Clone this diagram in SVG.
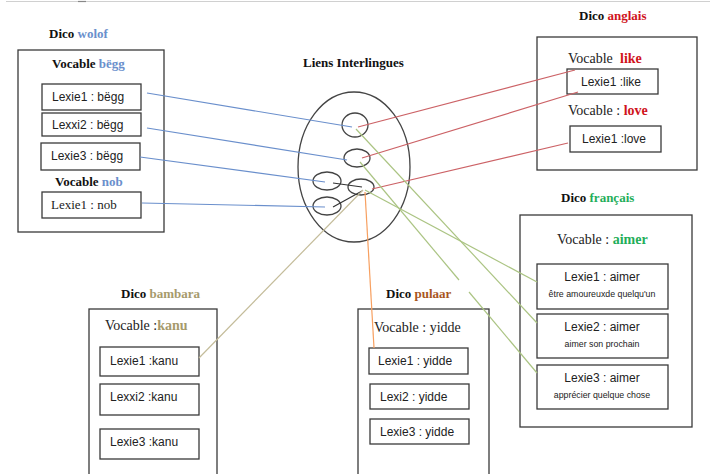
<svg xmlns="http://www.w3.org/2000/svg" width="710" height="474" viewBox="0 0 710 474">
<style>
.box{fill:#fff;stroke:#3a3a3a;stroke-width:1.3}
.in{fill:#fff;stroke:#3a3a3a;stroke-width:1.3}
.t{font-family:"Liberation Serif",serif;font-weight:bold;font-size:13px;fill:#111}
.v{font-family:"Liberation Serif",serif;font-size:14px;fill:#222}
.s{font-family:"Liberation Sans",sans-serif;font-size:12px;fill:#222}
.xs{font-family:"Liberation Sans",sans-serif;font-size:8.8px;fill:#222}
.ov{fill:none;stroke:#444;stroke-width:1.3}
.blue{stroke:#6a8fcc;stroke-width:1.2;fill:none}
.red{stroke:#cc6266;stroke-width:1.2;fill:none}
.green{stroke:#abc483;stroke-width:1.2;fill:none}
.tan{stroke:#c4bc9a;stroke-width:1.2;fill:none}
.orange{stroke:#f7a060;stroke-width:1.2;fill:none}
.blk{stroke:#333;stroke-width:1.1;fill:none}
.en{font-weight:bold;fill:#d0141c}
</style>
<rect width="710" height="474" fill="#fff"/>
<line x1="6" y1="1.5" x2="710" y2="1.5" stroke="#d0d0d0" stroke-width="1.2"/>
<line x1="78" y1="1.5" x2="86" y2="1.5" stroke="#888" stroke-width="1.2"/>

<g id="wolof">
<text class="t" x="49" y="38">Dico <tspan fill="#6a8fcc">wolof</tspan></text>
<rect class="box" x="18" y="50" width="146" height="182"/>
<text class="t" x="52" y="68">Vocable <tspan fill="#6a8fcc">bëgg</tspan></text>
<rect class="in" x="42" y="84" width="99" height="26"/>
<text class="s" x="52" y="101">Lexie1 : bëgg</text>
<rect class="in" x="42" y="113" width="99" height="23"/>
<text class="s" x="52" y="129">Lexxi2 : bëgg</text>
<rect class="in" x="41" y="143" width="99" height="27"/>
<text class="s" x="51" y="160">Lexie3 : bëgg</text>
<text class="t" x="55" y="186">Vocable <tspan fill="#6a8fcc">nob</tspan></text>
<rect class="in" x="42" y="192" width="99" height="26"/>
<text class="v" x="51" y="209" style="font-size:13px">Lexie1 : nob</text>
</g>

<g id="liens">
<text class="t" x="303" y="67">Liens Interlingues</text>
<ellipse class="ov" cx="354" cy="167" rx="56" ry="75"/>
<ellipse class="ov" cx="355" cy="125" rx="13" ry="12"/>
<ellipse class="ov" cx="357" cy="158" rx="13" ry="9"/>
<ellipse class="ov" cx="327" cy="181" rx="14" ry="9"/>
<ellipse class="ov" cx="361" cy="187" rx="13" ry="8"/>
<ellipse class="ov" cx="327" cy="206" rx="14" ry="9"/>
</g>

<g id="anglais">
<text class="t" x="579" y="20">Dico <tspan fill="#d0141c">anglais</tspan></text>
<rect class="box" x="537" y="37" width="160" height="133"/>
<text class="v" x="568" y="63">Vocable</text>
<text class="v en" x="620" y="63">like</text>
<rect class="in" x="567" y="69" width="91" height="25"/>
<text class="s" x="581" y="86">Lexie1 :like</text>
<text class="v" x="568" y="115">Vocable : <tspan class="en">love</tspan></text>
<rect class="in" x="570" y="126" width="91" height="26"/>
<text class="s" x="582" y="143">Lexie1 :love</text>
</g>

<g id="francais">
<text class="t" x="561" y="202">Dico <tspan fill="#1fae5a">français</tspan></text>
<rect class="box" x="520" y="215" width="172" height="212"/>
<text class="v" x="557" y="244">Vocable : <tspan font-weight="bold" fill="#1fae5a">aimer</tspan></text>
<rect class="in" x="537" y="264" width="131" height="45"/>
<text class="s" x="602" y="281" text-anchor="middle">Lexie1 : aimer</text>
<text class="xs" x="602" y="297" text-anchor="middle">être amoureuxde quelqu'un</text>
<rect class="in" x="537" y="314" width="131" height="44"/>
<text class="s" x="602" y="331" text-anchor="middle">Lexie2 : aimer</text>
<text class="xs" x="602" y="347" text-anchor="middle">aimer son prochain</text>
<rect class="in" x="537" y="365" width="131" height="44"/>
<text class="s" x="602" y="382" text-anchor="middle">Lexie3 : aimer</text>
<text class="xs" x="602" y="398" text-anchor="middle">apprécier quelque chose</text>
</g>

<g id="bambara">
<text class="t" x="121" y="298">Dico <tspan fill="#a69a6c">bambara</tspan></text>
<rect class="box" x="89" y="309" width="128" height="170"/>
<text class="v" x="105" y="330">Vocable :<tspan font-weight="bold" fill="#a69a6c">kanu</tspan></text>
<rect class="in" x="100" y="347" width="99" height="29"/>
<text class="s" x="110" y="365">Lexie1 :kanu</text>
<rect class="in" x="100" y="384" width="99" height="31"/>
<text class="s" x="110" y="401">Lexxi2 :kanu</text>
<rect class="in" x="100" y="429" width="99" height="30"/>
<text class="s" x="110" y="446">Lexie3 :kanu</text>
</g>

<g id="pulaar">
<text class="t" x="386" y="298">Dico <tspan fill="#a8561e">pulaar</tspan></text>
<rect class="box" x="358" y="309" width="131" height="170"/>
<text class="v" x="374" y="332">Vocable : yidde</text>
<rect class="in" x="369" y="348" width="99" height="26"/>
<text class="s" x="378" y="365">Lexie1 : yidde</text>
<rect class="in" x="370" y="384" width="99" height="25"/>
<text class="s" x="380" y="401">Lexi2 : yidde</text>
<rect class="in" x="370" y="419" width="99" height="25"/>
<text class="s" x="380" y="436">Lexie3 : yidde</text>
</g>

<g id="connectors">
<line class="blue" x1="147" y1="93" x2="352" y2="127"/>
<line class="blue" x1="147" y1="128" x2="347" y2="160"/>
<line class="blue" x1="140" y1="157" x2="325" y2="182"/>
<line class="blue" x1="142" y1="203" x2="325" y2="207"/>
<line class="blk" x1="333" y1="183" x2="362" y2="187"/>
<line class="blk" x1="333" y1="207" x2="362" y2="191"/>
<line class="red" x1="358" y1="127" x2="575" y2="70"/>
<line class="red" x1="362" y1="158" x2="578" y2="92"/>
<line class="red" x1="372" y1="189" x2="568" y2="143"/>
<line class="green" x1="356" y1="129" x2="537" y2="323"/>
<line class="green" x1="360" y1="162" x2="459" y2="280"/>
<line class="green" x1="469" y1="292" x2="537" y2="373"/>
<line class="green" x1="365" y1="190" x2="537" y2="282"/>
<line class="tan" x1="363" y1="190" x2="199" y2="358"/>
<line class="orange" x1="365" y1="192" x2="374" y2="348"/>
</g>
</svg>
